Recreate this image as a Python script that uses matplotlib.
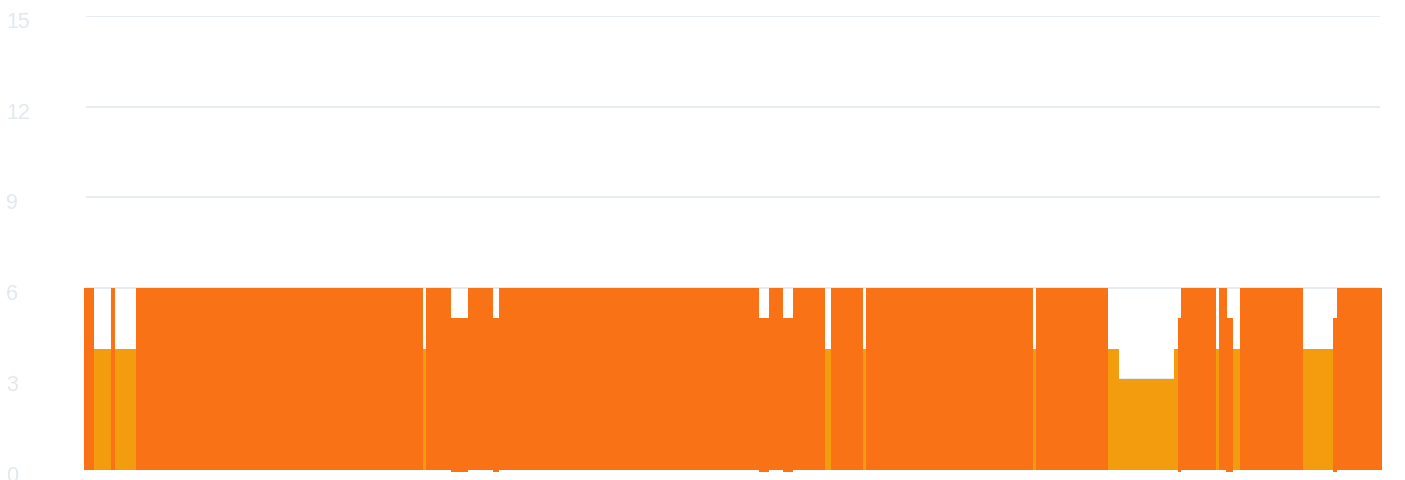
import matplotlib
matplotlib.use('Agg')
import matplotlib.pyplot as plt
import matplotlib.transforms as mtransforms

plt.rcParams['font.family'] = ['Liberation Sans', 'DejaVu Sans']

# 主序列（橙色）：起点、终点、数值
orange_start = [0, 27, 52, 342, 367, 384, 409, 415, 675, 685, 699, 709, 747,
                782, 952, 1094, 1097, 1135, 1142, 1156, 1249, 1253]
orange_end = [10, 31, 339, 367, 384, 409, 415, 675, 685, 699, 709, 741, 779,
              949, 1024, 1097, 1132, 1143, 1149, 1219, 1253, 1298]
orange_val = [6, 6, 6, 6, 5, 6, 5, 6, 5, 6, 5, 6, 6,
              6, 6, 5, 6, 6, 5, 6, 5, 6]

# 次序列（琥珀色）
amber_start = [10, 31, 339, 740, 779, 948, 1024, 1035, 1090, 1132, 1149, 1218]
amber_end = [27, 52, 342, 747, 782, 952, 1035, 1090, 1094, 1135, 1156, 1249]
amber_val = [4, 4, 4, 4, 4, 4, 4, 3, 4, 4, 4, 4]

y_ticks = [0, 3, 6, 9, 12, 15]

ORANGE = '#f97316'
AMBER = '#f39c0e'
GRID = '#e5e9f1'
LABEL = '#e2e8f0'

W, H = 1405, 480
fig = plt.figure(figsize=(W / 100, H / 100), dpi=100)
ax = fig.add_axes([84 / W, 10.5 / H, (1382 - 84) / W, (469.5 - 16) / H])

amber_w = [e - s for s, e in zip(amber_start, amber_end)]
ax.bar(amber_start, amber_val, width=amber_w, align='edge',
       color=AMBER, linewidth=0, zorder=3)

# 数值为5的柱子底部略微超出0线
orange_w = [e - s for s, e in zip(orange_start, orange_end)]
bottoms = [-0.07 if v == 5 else 0 for v in orange_val]
heights = [v - b for v, b in zip(orange_val, bottoms)]
ax.bar(orange_start, heights, width=orange_w, bottom=bottoms, align='edge',
       color=ORANGE, linewidth=0, zorder=4, clip_on=False)

ax.set_xlim(0, 1298)
ax.set_ylim(0, 15)
ax.set_yticks(y_ticks)
ax.set_xticks([])

for s in ['top', 'right', 'left', 'bottom']:
    ax.spines[s].set_visible(False)

# 网格线（两端略微内缩）
ax.hlines(y_ticks, 2, 1296, colors=GRID, linewidth=1.3, zorder=1)

ax.tick_params(axis='y', length=0, pad=56, labelsize=15.5, labelcolor=LABEL)
offset = mtransforms.ScaledTranslation(0, -4 / 100, fig.dpi_scale_trans)
for lbl in ax.get_yticklabels():
    lbl.set_horizontalalignment('left')
    lbl.set_transform(lbl.get_transform() + offset)

fig.savefig('out.png', dpi=100)
